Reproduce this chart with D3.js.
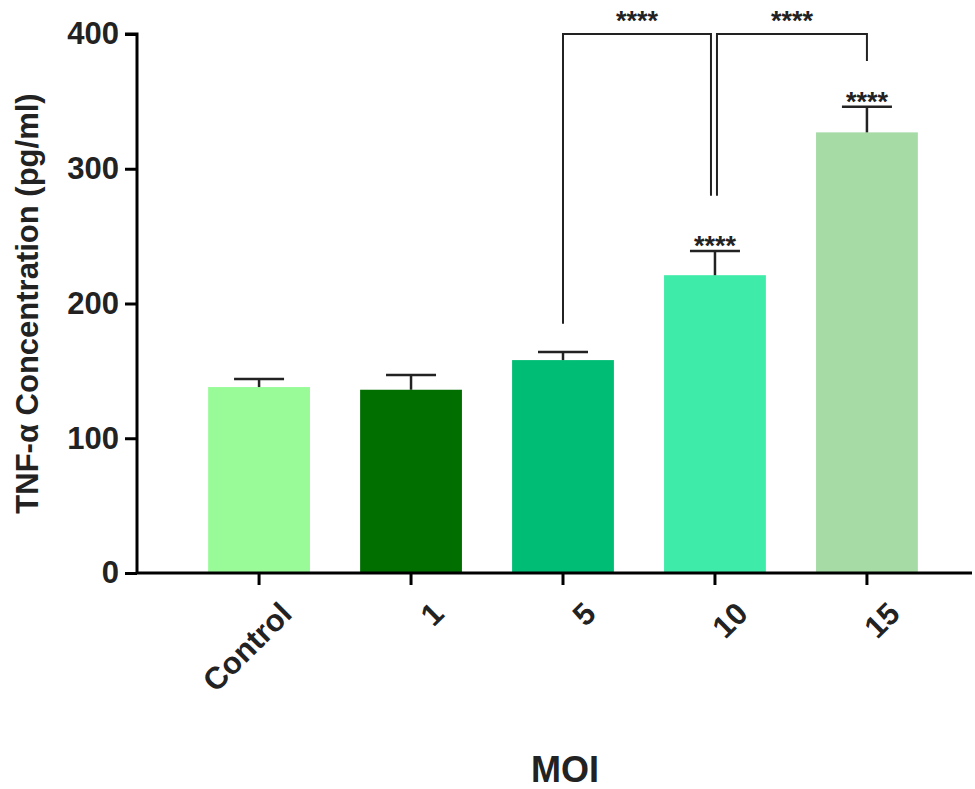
<!DOCTYPE html>
<html><head><meta charset="utf-8">
<script src="https://cdn.jsdelivr.net/npm/d3@7"></script>
<style>body{margin:0;background:#fff}svg{font-family:"Liberation Sans",Arial,sans-serif;font-weight:bold}</style>
</head><body><svg id="c"></svg>
<script>
const categories = ["Control", "1", "5", "10", "15"];
const means = [138, 136, 158, 221, 327];
const errors = [6, 11, 6, 18, 19];
const colors = ["#98fb98", "#006f00", "#00bd75", "#3eeba8", "#a6dba6"];
const yTicks = [0, 100, 200, 300, 400];
const barStars = [null, null, null, "****", "****"];

const width = 975, height = 789;
const margin = {left: 137, top: 34, right: 3, bottom: 216};
const svg = d3.select("#c").attr("width", width).attr("height", height);

const x = d3.scaleBand().domain(categories).range([158, 968]).padding(0.33);
const y = d3.scaleLinear().domain([0, 400]).range([height - margin.bottom, margin.top]);

const g = svg.append("g");

g.selectAll("rect").data(categories).enter().append("rect")
  .attr("x", d => x(d)).attr("width", x.bandwidth())
  .attr("y", (d, i) => y(means[i]))
  .attr("height", (d, i) => y(0) - y(means[i]))
  .attr("fill", (d, i) => colors[i]);

// error bars (upper only)
categories.forEach((d, i) => {
  const cx = x(d) + x.bandwidth() / 2;
  const top = y(means[i] + errors[i]);
  g.append("line").attr("x1", cx).attr("x2", cx).attr("y1", y(means[i])).attr("y2", top)
    .attr("stroke", "#222").attr("stroke-width", 2.5);
  g.append("line").attr("x1", cx - 25).attr("x2", cx + 25).attr("y1", top).attr("y2", top)
    .attr("stroke", "#222").attr("stroke-width", 2.5);
  if (barStars[i]) g.append("text").attr("x", cx).attr("y", top + 4)
    .attr("text-anchor", "middle").attr("font-size", 27).attr("fill", "#222").text(barStars[i]);
});

const fnt = a => a.selectAll("text").attr("font-size", 31).attr("font-family", "Liberation Sans").attr("font-weight", "bold").attr("fill", "#222");

// axes
const yAxis = d3.axisLeft(y).tickValues(yTicks).tickSize(12).tickPadding(6);
svg.append("g").attr("transform", `translate(${margin.left},0)`).call(yAxis)
  .call(a => a.select(".domain").attr("stroke-width", 3).attr("d", `M-12,${y(400)}H0V${y(0)}`))
  .call(a => a.selectAll(".tick line").attr("stroke-width", 3))
  .call(fnt);

const xAxis = d3.axisBottom(x).tickSize(12).tickPadding(4);
svg.append("g").attr("transform", `translate(0,${y(0)})`).call(xAxis)
  .call(a => a.select(".domain").attr("stroke-width", 3).attr("d", `M${margin.left},0H${width - margin.right}`))
  .call(a => a.selectAll(".tick line").attr("stroke-width", 3))
  .call(fnt)
  .call(a => a.selectAll("text").attr("text-anchor", "end").attr("transform", "translate(8,16) rotate(-45)").attr("dy", "0.7em"));

svg.append("text").attr("transform", `translate(38,${(y(0) + y(400)) / 2}) rotate(-90)`)
  .attr("text-anchor", "middle").attr("font-size", 31).attr("fill", "#222").text("TNF-α Concentration (pg/ml)");
svg.append("text").attr("x", 565).attr("y", 782).attr("text-anchor", "middle")
  .attr("font-size", 36).attr("fill", "#222").text("MOI");

// significance brackets
const cx = d => x(d) + x.bandwidth() / 2;
const by = y(400);
const bracket = (x1, y1, x2, y2, label) => {
  g.append("path").attr("d", `M${x1},${y1}V${by}H${x2}V${y2}`)
    .attr("fill", "none").attr("stroke", "#222").attr("stroke-width", 2);
  g.append("text").attr("x", (x1 + x2) / 2).attr("y", by - 4).attr("text-anchor", "middle")
    .attr("font-size", 27).attr("fill", "#222").text(label);
};
bracket(cx("5"), y(185), cx("10") - 4, y(280), "****");
bracket(cx("10") + 2, y(280), cx("15"), y(380), "****");
</script></body></html>
